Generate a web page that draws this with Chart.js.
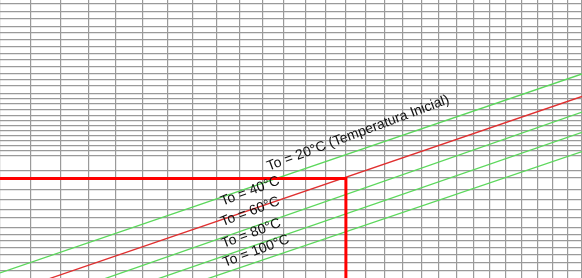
<!DOCTYPE html>
<html lang="pt">

<head>
    <meta charset="UTF-8">
    <title>Curvas To</title>
    <script src="https://cdn.jsdelivr.net/npm/chart.js"></script>
    <style>
        html, body {
            margin: 0;
            padding: 0;
            background: #fff;
        }
        #chart-container {
            width: 582px;
            height: 278px;
        }
    </style>
</head>

<body>
    <div id="chart-container">
        <canvas id="grafico"></canvas>
    </div>

    <script>
        // grid values (x is logarithmic)
        const xGrid = [24, 25, 26, 27, 28, 29, 30, 31, 32, 33, 34, 35, 36, 37, 38, 39, 40,
            41, 42, 43, 44, 45, 46, 47, 48, 49, 50, 51, 52];
        const yGrid = [98.6, 95.7, 93.2, 90.6, 88.1, 85.6, 83.1, 80.6, 78.4, 75.9, 73.7, 71.2,
            69.1, 66.5, 64.4, 62.6, 60.4, 58.3, 56.5, 54.7, 52.9, 51.4, 49.6, 47.8, 45.7, 43.9,
            38.8, 36.0, 31.7, 28.1, 24.5, 21.6, 18.3, 15.5, 13.3, 10.8, 8.3, 5.4, 2.5];

        // curves: end points at x = 24 and x = 52
        const curveNames = ['To = 20°C', 'To = 40°C', 'To = 60°C', 'To = 80°C', 'To = 100°C'];
        const curveStart = [1.8, -6.3, -13.4, -19.9, -25.6];
        const curveEnd = [73.4, 65.3, 59.7, 52.4, 45.5];
        const curveColors = ['#5cd85c', '#e03030', '#5cd85c', '#5cd85c', '#5cd85c'];

        // reading line (red)
        const readX = [24, 38, 38];
        const readY = [35.8, 35.8, 0];

        // labels
        const labelTexts = ['To = 20°C (Temperatura Inicial)', 'To = 40°C', 'To = 60°C', 'To = 80°C', 'To = 100°C'];
        const labelX = [34.3, 32.25, 32.25, 32.3, 32.35];
        const labelY = [38.6, 26.0, 18.6, 10.8, 4.0];
        const labelAngle = 20.5;

        const labelPlugin = {
            id: 'curveLabels',
            afterDatasetsDraw(chart) {
                const ctx = chart.ctx;
                const x = chart.scales.x;
                const y = chart.scales.y;
                ctx.save();
                ctx.font = '14px "Liberation Sans", Arial, sans-serif';
                ctx.fillStyle = '#111';
                ctx.textBaseline = 'alphabetic';
                labelTexts.forEach((t, i) => {
                    ctx.save();
                    ctx.translate(x.getPixelForValue(labelX[i]), y.getPixelForValue(labelY[i]));
                    ctx.rotate(-labelAngle * Math.PI / 180);
                    ctx.fillText(t, 0, 0);
                    ctx.restore();
                });
                ctx.restore();
            }
        };

        const datasets = [{
            label: 'leitura',
            data: readX.map((v, i) => ({ x: v, y: readY[i] })),
            borderColor: '#ff0000',
            borderWidth: 3,
            pointRadius: 0,
            pointHoverRadius: 0,
            tension: 0
        }];
        curveNames.forEach((n, i) => {
            datasets.push({
                label: n,
                data: [{ x: xGrid[0], y: curveStart[i] }, { x: xGrid[xGrid.length - 1], y: curveEnd[i] }],
                borderColor: curveColors[i],
                borderWidth: 1.3,
                pointRadius: 0,
                pointHoverRadius: 0,
                tension: 0
            });
        });

        const ctx = document.getElementById('grafico').getContext('2d');
        const grafico = new Chart(ctx, {
            type: 'line',
            data: { datasets: datasets },
            options: {
                responsive: true,
                maintainAspectRatio: false,
                animation: false,
                layout: { padding: 0, autoPadding: false },
                plugins: {
                    legend: { display: false },
                    tooltip: { enabled: false }
                },
                scales: {
                    x: {
                        type: 'logarithmic',
                        min: 24,
                        max: 52,
                        ticks: { display: false },
                        border: { display: false },
                        grid: { color: '#9a9a9a', lineWidth: 1.2, drawTicks: false },
                        afterBuildTicks: s => { s.ticks = xGrid.map(v => ({ value: v })); }
                    },
                    y: {
                        type: 'linear',
                        min: 0,
                        max: 100,
                        ticks: { display: false },
                        border: { display: false },
                        grid: { color: '#9a9a9a', lineWidth: 1.2, drawTicks: false },
                        afterBuildTicks: s => { s.ticks = yGrid.map(v => ({ value: v })); }
                    }
                }
            },
            plugins: [labelPlugin]
        });
    </script>
</body>

</html>
